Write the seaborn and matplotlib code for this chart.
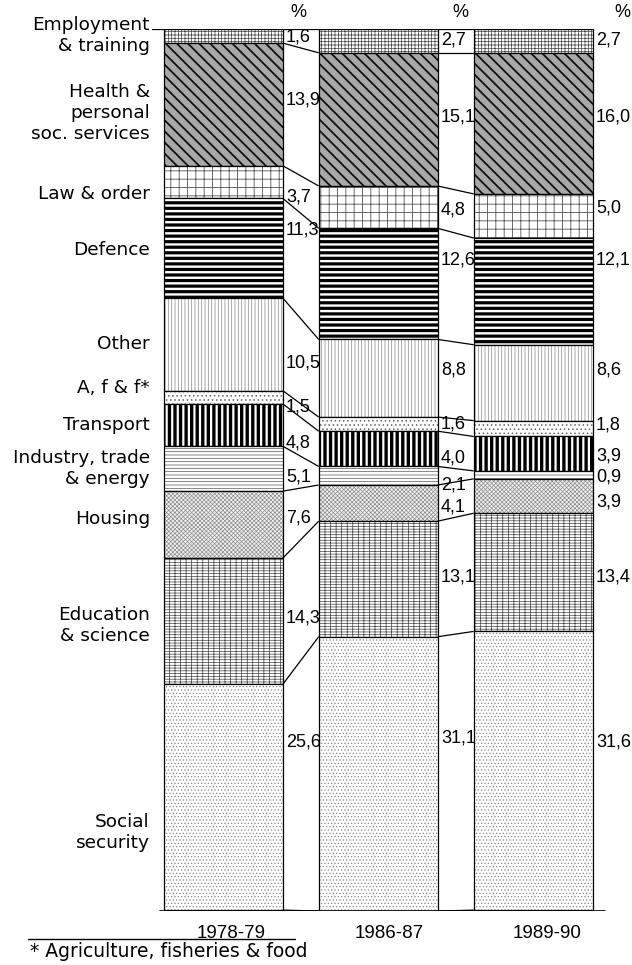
import matplotlib
matplotlib.use("Agg")
import matplotlib.pyplot as plt
import seaborn as sns
import numpy as np

# data
years = ["1978-79", "1986-87", "1989-90"]
categories = ["Employment\n& training", "Health &\npersonal\nsoc. services", "Law & order",
              "Defence", "Other", "A, f & f*", "Transport", "Industry, trade\n& energy",
              "Housing", "Education\n& science", "Social\nsecurity"]
share_1978 = [1.6, 13.9, 3.7, 11.3, 10.5, 1.5, 4.8, 5.1, 7.6, 14.3, 25.6]
share_1986 = [2.7, 15.1, 4.8, 12.6, 8.8, 1.6, 4.0, 2.1, 4.1, 13.1, 31.1]
share_1989 = [2.7, 16.0, 5.0, 12.1, 8.6, 1.8, 3.9, 0.9, 3.9, 13.4, 31.6]
footnote = "* Agriculture, fisheries & food"

shares = np.array([share_1978, share_1986, share_1989])   # year x category
tops = np.hstack([np.zeros((3, 1)), np.cumsum(shares, axis=1)[:, :-1]])
bounds = np.hstack([np.zeros((3, 1)), np.cumsum(shares, axis=1)])

# hatch pattern, hatch colour, hatch linewidth, face colour for each category
styles = [("+++++", "#444444", 0.5, "white"),
          ("\\\\\\", "#111111", 1.3, "#a8a8a8"),
          ("++", "#555555", 0.6, "white"),
          ("---", "black", 2.3, "white"),
          ("|||||", "#888888", 0.5, "white"),
          ("....", "#666666", 0.6, "white"),
          ("|||", "black", 2.4, "white"),
          ("-----", "#555555", 0.5, "white"),
          ("xxxxxxxx", "#888888", 0.45, "#eeeeee"),
          ("------|||", "#444444", 0.5, "white"),
          (".....", "#888888", 0.5, "white")]

# label nudges (percent units) so the numbers sit where the original put them
nudge = np.array([[0.1, -0.5, 1.7, -2.1, 2.1, 1.1, 2.0, 1.0, -0.8, -0.4, -6.3],
                  [-0.1, -0.3, 0.3, -2.7, -0.9, 0.0, 1.0, 1.0, 0.5, -0.2, -4.1],
                  [-0.1, -0.7, -0.9, -3.6, -1.4, -0.4, 0.3, 0.3, 0.7, 0.5, -3.3]])
left_nudge = [-0.1, 1.0, 1.4, 0.2, 0.0, -1.0, 0.0, 0.0, -0.6, 0.5, 4.0]

sns.set_style("white")
plt.rcParams["font.family"] = ["DejaVu Sans"]
plt.rcParams["text.color"] = "black"

fig = plt.figure(figsize=(6.32, 9.65), dpi=100)
ax = fig.add_axes([138 / 632, 54 / 965, 496 / 632, 882 / 965])

bw = 0.768
for j, (hatch, hcol, hlw, face) in enumerate(styles):
    with plt.rc_context({"hatch.linewidth": hlw}):
        sns.barplot(x=years, y=shares[:, j], bottom=tops[:, j], width=bw,
                    color=face, edgecolor=hcol, linewidth=0, hatch=hatch,
                    saturation=1, ax=ax, errorbar=None)
    sns.barplot(x=years, y=shares[:, j], bottom=tops[:, j], width=bw,
                fill=False, color="black", linewidth=0.9, ax=ax, errorbar=None)

# connecting lines between bars
for i in range(2):
    for b0, b1 in zip(bounds[i], bounds[i + 1]):
        ax.plot([i + bw / 2, i + 1 - bw / 2], [b0, b1], color="black", lw=0.9,
                solid_capstyle="butt")
ax.plot([-0.41, 2.46], [100, 100], color="black", lw=1.2)
ax.plot([-0.46, -bw / 2], [0, 0], color="black", lw=0.9)

# value labels
for i in range(3):
    for j in range(len(categories)):
        y = tops[i, j] + shares[i, j] / 2 + nudge[i, j]
        ax.text(i + bw / 2 + 0.02, y, f"{shares[i, j]:.1f}".replace(".", ","),
                ha="left", va="center", fontsize=13, family="Liberation Sans")
    ax.text(i + bw / 2 + 0.1 + 0.045 * i, -1.9, "%", ha="center", va="center",
            fontsize=13, family="Liberation Sans")
    ax.text(i + 0.05 + 0.02 * i, 102.5, years[i], ha="center", va="center",
            fontsize=13.5, family="Liberation Sans")

# category labels on the left
for j, name in enumerate(categories):
    y = tops[0, j] + shares[0, j] / 2 + left_nudge[j]
    ax.text(-0.474, y, name, ha="right", va="center", multialignment="right",
            fontsize=13.3, linespacing=1.2)

ax.plot([-1.26, 0.46], [103.2, 103.2], color="black", lw=1.0, clip_on=False)
ax.text(-1.25, 104.6, footnote, ha="left", va="center", fontsize=13.5)

ax.set_xlim(-0.55, 2.65)
ax.set_ylim(100, 0)
ax.set_axis_off()

fig.savefig("out.png", dpi=100)
